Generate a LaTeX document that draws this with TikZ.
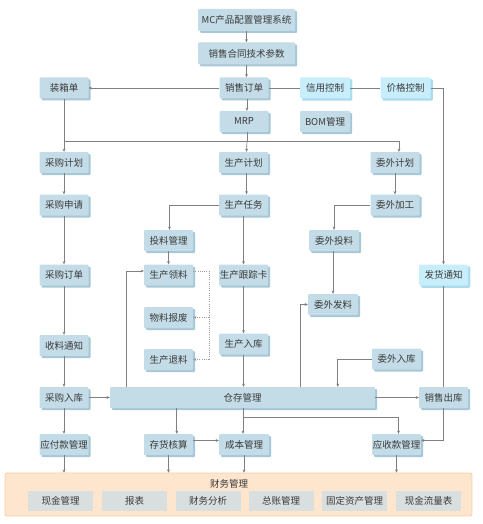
\documentclass[tikz,border=0pt]{standalone}
\usepackage{fontspec}
\setmainfont{Noto Sans CJK SC}
\usetikzlibrary{shadows,calc,arrows.meta}
\definecolor{face}{HTML}{C4DCE7}
\definecolor{bev}{HTML}{A6C7D6}
\definecolor{cface}{HTML}{C9EEFB}
\definecolor{cbev}{HTML}{A8DCEF}
\definecolor{txt}{HTML}{3A3A3A}
\definecolor{ln}{HTML}{808080}
\definecolor{dln}{HTML}{9A9A9A}
\definecolor{orf}{HTML}{FDE5CE}
\definecolor{ord}{HTML}{F8D0A6}
\definecolor{gbox}{HTML}{D9DFDF}
\tikzset{
  blk/.style={rectangle, fill=face, text=txt, minimum width=49pt, minimum height=21pt,
    inner sep=0pt, rounded corners=1pt, font=\fontsize{9.5pt}{11pt}\selectfont,
    drop shadow={shadow xshift=2pt, shadow yshift=-2pt, fill=bev, opacity=1}},
  cblk/.style={blk, fill=cface, minimum width=50pt,
    drop shadow={shadow xshift=2pt, shadow yshift=-2pt, fill=cbev, opacity=1}},
  gblk/.style={rectangle, fill=gbox, text=txt, minimum width=65pt, minimum height=20pt,
    inner sep=0pt, font=\fontsize{9.5pt}{11pt}\selectfont},
  conn/.style={draw=ln, line width=0.7pt},
  arr/.style={conn, -{Stealth[length=3.2pt,width=3pt]}},
  dotline/.style={draw=dln, line width=0.7pt, dash pattern=on 0.8pt off 1.4pt},
  dotarr/.style={dotline, -{Stealth[length=3.2pt,width=3pt]}},
}
\begin{document}
\begin{tikzpicture}[x=1pt,y=-1pt]
\useasboundingbox (0,0) rectangle (482,524);

% top
\node[blk, minimum width=97pt, minimum height=22pt] (mc) at (246.5,20) {MC产品配置管理系统};
\node[blk, minimum width=97pt, minimum height=22pt] (tech) at (246.5,53.5) {销售合同技术参数};
\node[blk] (order) at (244,88) {销售订单};
\node[blk] (pack) at (64,88) {装箱单};
\node[cblk] (credit) at (325,88) {信用控制};
\node[cblk] (price) at (405.5,88) {价格控制};
\node[blk] (mrp) at (244,121.5) {MRP};
\node[blk, minimum width=50pt] (bom) at (325,121.5) {BOM管理};

% left column
\node[blk] (cgplan) at (64,162.5) {采购计划};
\node[blk] (cgreq) at (64,205) {采购申请};
\node[blk] (cgord) at (64,275) {采购订单};
\node[blk] (slnote) at (64,345.5) {收料通知};
\node[blk] (cgin) at (64,397.5) {采购入库};
\node[blk] (yingfu) at (64,444.5) {应付款管理};

% middle column
\node[blk] (scplan) at (243.5,162.5) {生产计划};
\node[blk] (sctask) at (243.5,205) {生产任务};
\node[blk] (track) at (243.5,275) {生产跟踪卡};
\node[blk] (scin) at (243.5,344) {生产入库};
\node[blk, minimum width=50pt] (cost) at (244,444.5) {成本管理};

% second column
\node[blk] (touliao) at (168.5,240.5) {投料管理};
\node[blk] (lingliao) at (168.5,275) {生产领料};
\node[blk] (baofei) at (168.5,317.5) {物料报废};
\node[blk] (tuiliao) at (168.5,359.5) {生产退料};
\node[blk] (chfh) at (168.5,444.5) {存货核算};

% outsourcing
\node[blk] (wwplan) at (395,162.5) {委外计划};
\node[blk] (wwjg) at (395,205) {委外加工};
\node[blk, minimum width=50pt] (wwtl) at (334,240.5) {委外投料};
\node[blk, minimum width=50pt] (wwfl) at (333,304.5) {委外发料};
\node[blk] (wwrk) at (396.5,359) {委外入库};
\node[blk] (yingshou) at (396.5,444.5) {应收款管理};

% right column
\node[cblk, minimum width=49pt] (fahuo) at (443.5,275) {发货通知};
\node[blk] (xsout) at (443.5,397.5) {销售出库};

% warehouse
\node[blk, minimum width=265pt] (cangcun) at (242.5,397.5) {仓存管理};

% finance
\node[rectangle, rounded corners=2pt, fill=orf, draw=ord, line width=0.8pt,
  minimum width=467pt, minimum height=43pt, inner sep=0pt] (caiwu) at (238.5,494.5) {};
\node[text=txt, font=\fontsize{9.5pt}{11pt}\selectfont, inner sep=0pt] (cwtitle) at (229,484) {财务管理};
\node[gblk] (f1) at (60.5,501) {现金管理};
\node[gblk] (f2) at (134.5,501) {报表};
\node[gblk] (f3) at (208,501) {财务分析};
\node[gblk] (f4) at (281,501) {总账管理};
\node[gblk] (f5) at (354.5,501) {固定资产管理};
\node[gblk] (f6) at (428.5,501) {现金流量表};

% helper coordinates
\coordinate (bus) at (0,141);
\coordinate (dotx) at (209,0);
\coordinate (up1) at ($(cangcun.north west)+(17,0)$);
\coordinate (up2) at ($(cangcun.north west)+(191,0)$);
\coordinate (dn2) at ($(cangcun.north west)+(228,0)$);
\coordinate (dn1) at ($(cangcun.south west)+(67,0)$);
\coordinate (split) at (243,417);

% top connectors
\draw[arr] (mc.south) -- (tech.north);
\draw[arr] (tech.south) -- (tech.south |- order.north);
\draw[arr] (order.west) -- (pack.east);
\draw[conn] (order.east) -- (credit.west);
\draw[conn] (credit.east) -- (price.west);
\draw[arr] (price.east) -| (fahuo.north);
\draw[arr] ([xshift=3pt]order.south) -- ([xshift=3pt]order.south |- mrp.north);
\draw[conn] ([xshift=3pt]mrp.south) -- ([xshift=3pt]mrp.south |- bus);
\draw[arr] (pack.south) -- (cgplan.north);
\draw[arr] (pack.south |- bus) -| ([xshift=4pt]wwplan.north);
\draw[arr] ([xshift=3pt]mrp.south |- bus) -- ([xshift=3pt]scplan.north);

% left chain
\draw[arr] (cgplan.south) -- (cgreq.north);
\draw[arr] (cgreq.south) -- (cgord.north);
\draw[arr] (cgord.south) -- (slnote.north);
\draw[arr] (slnote.south) -- (cgin.north);
\draw[arr] (cgin.south) -- (yingfu.north);
\draw[arr] (cgin.east) -- (cangcun.west);

% production chain
\draw[arr] ([xshift=3pt]scplan.south) -- ([xshift=3pt]sctask.north);
\draw[arr] (sctask.west) -| ([xshift=1pt]touliao.north);
\draw[arr] (sctask.south) -- (track.north);
\draw[arr] (track.south) -- (scin.north);
\draw[arr] (scin.south) -- (scin.south |- cangcun.north);
\draw[arr] (touliao.south) -- (lingliao.north);
\draw[dotline] ([yshift=4pt]lingliao.east) -- ([yshift=4pt]lingliao.east -| dotx) -- (dotx |- tuiliao.east);
\draw[dotarr] (dotx |- baofei.east) -- (baofei.east);
\draw[dotarr] (dotx |- tuiliao.east) -- (tuiliao.east);
\draw[arr] (up1) |- ([yshift=4pt]lingliao.west);

% outsourcing chain
\draw[arr] (wwplan.south) -- (wwjg.north);
\draw[arr] (wwjg.west) -| (wwtl.north);
\draw[arr] ([xshift=-1pt]wwtl.south) -- ([xshift=-1pt]wwtl.south |- wwfl.north);
\draw[arr] (up2) |- (wwfl.west);
\draw[arr] (wwrk.west) -| (dn2);

% right
\draw[conn] (fahuo.south) -- (xsout.north);
\draw[arr] (cangcun.east) -- (xsout.west);
\draw[arr] (xsout.south) |- ([yshift=4pt]yingshou.east);

% below warehouse
\draw[arr] (dn1) -- (dn1 |- chfh.north);
\draw[arr] (split |- cangcun.south) -- (split |- cost.north);
\draw[arr] (split) -| ([xshift=2pt]yingshou.north);
\draw[arr] ([yshift=4pt]chfh.east) -- ([yshift=4pt]cost.west);

% into finance
\draw[arr] (yingfu.south) -- (yingfu.south |- caiwu.north);
\draw[arr] (chfh.south) -- (chfh.south |- caiwu.north);
\draw[arr] (cost.south) -- (cost.south |- caiwu.north);
\draw[arr] (yingshou.south) -- (yingshou.south |- caiwu.north);
\end{tikzpicture}
\end{document}
